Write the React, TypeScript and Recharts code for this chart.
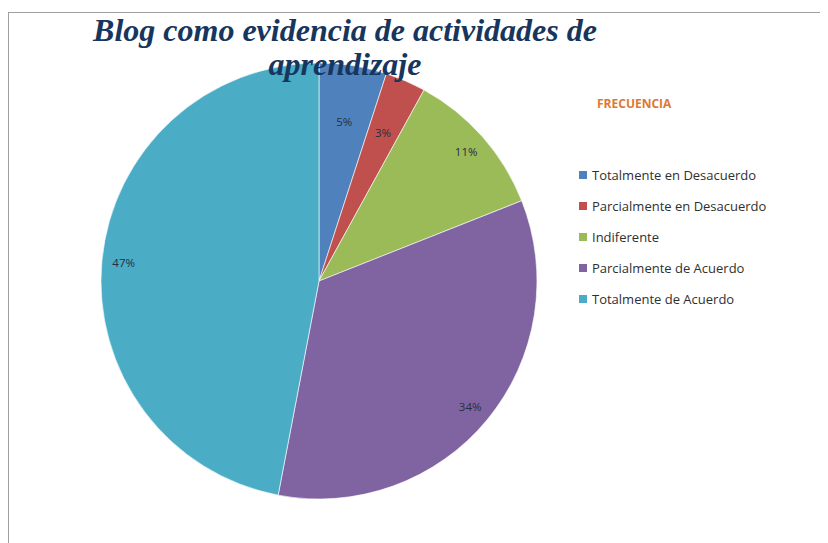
import { PieChart, Pie, Cell } from "recharts"

// Respuestas de la encuesta (porcentajes)
const categories = [
  "Totalmente en Desacuerdo",
  "Parcialmente en Desacuerdo",
  "Indiferente",
  "Parcialmente de Acuerdo",
  "Totalmente de Acuerdo",
]
const frecuencia = [5, 3, 11, 34, 47]

const COLORS = ["#4F81BD", "#C0504D", "#9BBB59", "#8064A2", "#4BACC6"]

const data = categories.map((name, i) => ({ name, value: frecuencia[i] }))

const RADIAN = Math.PI / 180

const renderLabel = ({
  cx,
  cy,
  midAngle,
  outerRadius,
  percent,
}: {
  cx: number
  cy: number
  midAngle: number
  outerRadius: number
  percent: number
}) => {
  // small slices get their label pulled further in, like Excel's best fit
  const radius = outerRadius * (percent < 0.06 ? 0.74 : 0.9)
  const x = cx + radius * Math.cos(-midAngle * RADIAN)
  const y = cy + radius * Math.sin(-midAngle * RADIAN)
  return (
    <text
      x={x}
      y={y}
      fill="#243040"
      textAnchor="middle"
      dominantBaseline="central"
      fontSize={11.5}
      fontFamily="'Open Sans', sans-serif"
    >
      {`${Math.round(percent * 100)}%`}
    </text>
  )
}

function FrecuenciaLegend() {
  return (
    <div style={{ position: "absolute", left: 571, top: 87, fontFamily: "'Open Sans', sans-serif" }}>
      <div style={{ color: "#E0782F", fontWeight: "bold", fontSize: 12, marginLeft: 18, height: 64 }}>
        FRECUENCIA
      </div>
      {data.map((entry, index) => (
        <div
          key={`legend-${index}`}
          style={{ display: "flex", alignItems: "center", height: 31, fontSize: 13, color: "#303030" }}
        >
          <span
            style={{
              width: 8,
              height: 8,
              background: COLORS[index],
              display: "inline-block",
              marginRight: 5,
            }}
          />
          {entry.name}
        </div>
      ))}
    </div>
  )
}

export default function App() {
  return (
    <div style={{ position: "relative", width: 820, height: 535 }}>
      <div
        style={{
          position: "absolute",
          left: 0,
          top: 4,
          width: 820,
          height: 531,
          borderTop: "1px solid #a0a0a0",
          borderLeft: "1px solid #a0a0a0",
          boxSizing: "border-box",
        }}
      />
      <PieChart
        width={820}
        height={535}
        margin={{ top: 0, right: 0, bottom: 0, left: 0 }}
        style={{ position: "absolute", left: 0, top: 0 }}
      >
        <Pie
          data={data}
          dataKey="value"
          cx={311}
          cy={273}
          outerRadius={218}
          startAngle={90}
          endAngle={-270}
          labelLine={false}
          label={renderLabel}
          stroke="#ffffff"
          strokeOpacity={0.6}
          strokeWidth={1}
          isAnimationActive={false}
        >
          {data.map((entry, index) => (
            <Cell key={`cell-${index}`} fill={COLORS[index % COLORS.length]} />
          ))}
        </Pie>
      </PieChart>
      <FrecuenciaLegend />
      <div
        style={{
          position: "absolute",
          left: 37,
          top: 5,
          width: 600,
          textAlign: "center",
          fontFamily: "'Liberation Serif', serif",
          fontWeight: "bold",
          fontStyle: "italic",
          fontSize: 32,
          lineHeight: "34px",
          color: "#17365D",
        }}
      >
        Blog como evidencia de actividades de
        <br />
        aprendizaje
      </div>
    </div>
  )
}
